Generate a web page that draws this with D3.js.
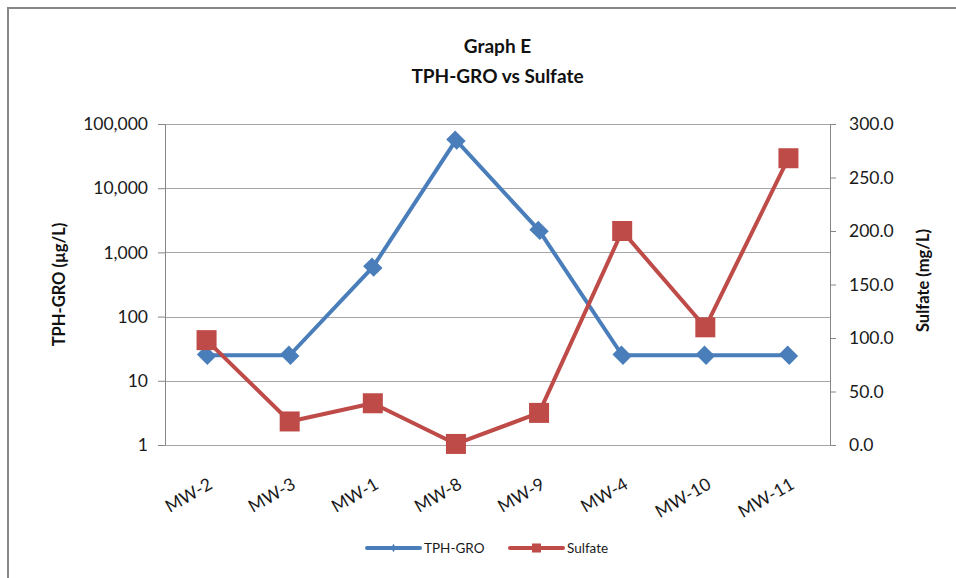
<!DOCTYPE html>
<html><head><meta charset="utf-8">
<script src="https://cdn.jsdelivr.net/npm/d3@7"></script>
<style>
html,body{margin:0;padding:0;background:#fff;}
svg{display:block;font-family:Lato,"Open Sans",sans-serif;}
</style></head>
<body>
<script>
const categories = ["MW-2","MW-3","MW-1","MW-8","MW-9","MW-4","MW-10","MW-11"];
const tphGro = [25, 25, 590, 56000, 2200, 25, 25, 25];
const sulfate = [98, 22, 39, 1, 30, 200, 110, 268];
const leftTicks = [1, 10, 100, 1000, 10000, 100000];
const rightTicks = [0, 50, 100, 150, 200, 250, 300];
const seriesNames = ["TPH-GRO", "Sulfate"];

const W = 956, H = 578;
const m = {left:165, right:830, top:124, bottom:445};
const blue = "#4a7ebb", red = "#be4b48";

const svg = d3.select("body").append("svg").attr("width", W).attr("height", H);
svg.append("rect").attr("x",0).attr("y",0).attr("width",W).attr("height",H).attr("fill","#fff");
svg.append("path").attr("d",`M8,${H+5}V8H${W+5}`).attr("fill","none").attr("stroke","#878787").attr("stroke-width",2);

const x = d3.scaleBand().domain(categories).range([m.left, m.right]);
const yL = d3.scaleLog().domain([1, 100000]).range([m.bottom, m.top]);
const yR = d3.scaleLinear().domain([0, 300]).range([m.bottom, m.top]);

svg.append("g").selectAll("line").data(leftTicks).join("line")
  .attr("x1", m.left).attr("x2", m.right)
  .attr("y1", d => Math.round(yL(d))+0.5).attr("y2", d => Math.round(yL(d))+0.5)
  .attr("stroke", "#a6a6a6").attr("stroke-width", 1);

const gL = svg.append("g").attr("transform", `translate(${m.left},0)`)
  .call(d3.axisLeft(yL).tickValues(leftTicks).tickFormat(d3.format(",")).tickSize(7).tickPadding(10));
const gR = svg.append("g").attr("transform", `translate(${m.right},0)`)
  .call(d3.axisRight(yR).tickValues(rightTicks).tickFormat(d3.format(".1f")).tickSize(6).tickPadding(13));
const gB = svg.append("g").attr("transform", `translate(0,${m.bottom})`)
  .call(d3.axisBottom(x).tickSize(0).tickPadding(12));

[gL, gR, gB].forEach(g => {
  g.select(".domain").attr("stroke", "#868686");
  g.selectAll(".tick line").attr("stroke", "#868686");
  g.selectAll("text").attr("fill", "#1a1a1a").style("font-size", "17.5px").style("font-family", "Lato, 'Open Sans', sans-serif");
});
gB.select(".domain").attr("stroke","#a6a6a6");
gB.selectAll(".tick text")
  .attr("text-anchor", "end")
  .attr("dy", "0.35em")
  .attr("transform", "translate(-2,27) rotate(-30)");

const lineL = d3.line().x((d,i) => x(categories[i]) + x.bandwidth()/2).y(d => yL(d));
const lineR = d3.line().x((d,i) => x(categories[i]) + x.bandwidth()/2).y(d => yR(d));

svg.append("path").datum(tphGro).attr("d", lineL).attr("fill","none")
  .attr("stroke", blue).attr("stroke-width", 4).attr("stroke-linejoin","round");
svg.append("g").selectAll("path").data(tphGro).join("path")
  .attr("d", d3.symbol(d3.symbolSquare, 220))
  .attr("transform", (d,i) => `translate(${x(categories[i]) + x.bandwidth()/2},${yL(d)}) rotate(45) scale(1,0.85)`)
  .attr("fill", blue);

svg.append("path").datum(sulfate).attr("d", lineR).attr("fill","none")
  .attr("stroke", red).attr("stroke-width", 4).attr("stroke-linejoin","round");
svg.append("g").selectAll("rect").data(sulfate).join("rect")
  .attr("x", (d,i) => x(categories[i]) + x.bandwidth()/2 - 10)
  .attr("y", d => yR(d) - 10)
  .attr("width", 20).attr("height", 20)
  .attr("fill", red);

const title = svg.append("text").attr("text-anchor","middle")
  .style("font-size","19px").style("font-weight","bold").attr("fill","#111");
title.append("tspan").attr("x", (m.left+m.right)/2).attr("y", 53).text("Graph E");
title.append("tspan").attr("x", (m.left+m.right)/2).attr("y", 83).text("TPH-GRO vs Sulfate");

svg.append("text").attr("transform", `translate(65,${(m.top+m.bottom)/2}) rotate(-90)`)
  .attr("text-anchor","middle").style("font-size","16.5px").style("font-weight","bold").attr("fill","#111")
  .text("TPH-GRO (µg/L)");
svg.append("text").attr("transform", `translate(929,${(m.top+m.bottom)/2 - 4}) rotate(-90)`)
  .attr("text-anchor","middle").style("font-size","16.5px").style("font-weight","bold").attr("fill","#111")
  .text("Sulfate (mg/L)");

const leg = svg.append("g");
const legItems = [{name:seriesNames[0], color:blue, x:367, sym:"diamond"},{name:seriesNames[1], color:red, x:510, sym:"square"}];
legItems.forEach(it => {
  leg.append("line").attr("x1", it.x).attr("x2", it.x+53).attr("y1", 548).attr("y2", 548)
    .attr("stroke", it.color).attr("stroke-width", 4).attr("stroke-linecap","round");
  if (it.sym === "diamond") {
    leg.append("path").attr("d", d3.symbol(d3.symbolDiamond, 20))
      .attr("transform", `translate(${it.x+26.5},548)`).attr("fill", it.color);
  } else {
    leg.append("rect").attr("x", it.x+22).attr("y", 543.5).attr("width", 9).attr("height", 9).attr("fill", it.color);
  }
  leg.append("text").attr("x", it.x+57).attr("y", 548).attr("dy","0.35em")
    .style("font-size","13.5px").attr("fill","#1a1a1a").text(it.name);
});
</script>
</body></html>
